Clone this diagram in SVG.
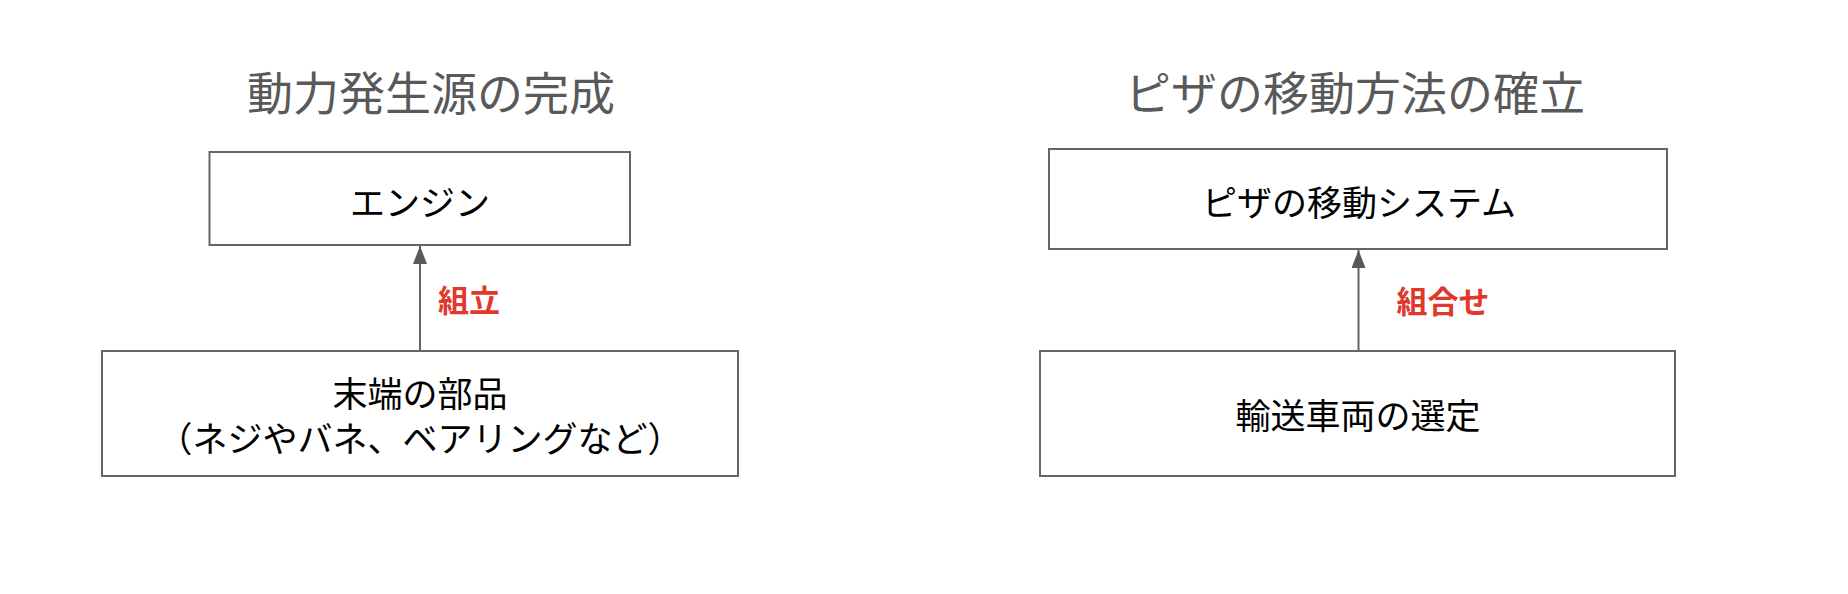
<svg xmlns="http://www.w3.org/2000/svg" width="1848" height="594" viewBox="0 0 1848 594">
<style>
text { font-family: "Noto Sans CJK JP", "Noto Sans", sans-serif; text-anchor: middle; dominant-baseline: central; }
.title { font-size: 46px; fill: #595959; }
.box { fill: #ffffff; stroke: #666666; stroke-width: 2; }
.lbl { font-size: 35px; fill: #000000; }
.edge { fill: none; stroke: #666666; stroke-width: 2; }
.elbl { font-size: 31px; font-weight: bold; fill: #E0392B; }
</style>
<defs>
<marker id="arr" viewBox="0 0 18 14" refX="18" refY="7" markerWidth="18" markerHeight="14" markerUnits="userSpaceOnUse" orient="auto">
<path d="M0,0 L18,7 L0,14 Z" fill="#595959"/>
</marker>
</defs>
<rect width="1848" height="594" fill="#ffffff"/>
<g id="title-left"><text class="title" x="431" y="90">動力発生源の完成</text></g>
<g id="title-right"><text class="title" x="1355" y="90">ピザの移動方法の確立</text></g>
<g id="connectors">
<line class="edge" x1="420" y1="351" x2="420" y2="246" marker-end="url(#arr)" />
<text class="elbl" x="469" y="298">組立</text>
<line class="edge" x1="1358.5" y1="351" x2="1358.5" y2="250" marker-end="url(#arr)" />
<text class="elbl" x="1443" y="299">組合せ</text>
</g>
<g id="node-engine">
<rect class="box" x="209.5" y="152" width="420.5" height="93"/>
<text class="lbl" x="420" y="200">エンジン</text>
</g>
<g id="node-parts">
<rect class="box" x="102" y="351" width="636" height="125"/>
<text class="lbl"><tspan x="420" y="391">末端の部品</tspan><tspan x="420" y="436">（ネジやバネ、ベアリングなど）</tspan></text>
</g>
<g id="node-pizza-system">
<rect class="box" x="1049" y="149" width="618" height="100"/>
<text class="lbl" x="1359" y="200">ピザの移動システム</text>
</g>
<g id="node-vehicle">
<rect class="box" x="1040" y="351" width="635" height="125"/>
<text class="lbl" x="1358" y="413">輸送車両の選定</text>
</g>
</svg>
